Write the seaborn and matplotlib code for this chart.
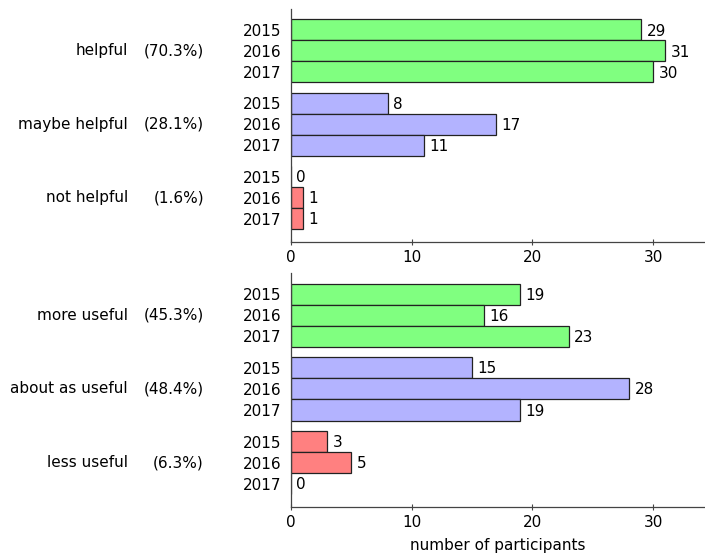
"""
Grouped horizontal bars: helpfulness / usefulness ratings per year.
"""

import pandas as pd
import matplotlib
matplotlib.use("Agg")
import matplotlib.pyplot as plt
import matplotlib.transforms as mtransforms
import seaborn as sns

# Data
years = ["2015", "2016", "2017"]

top_categories = ["helpful", "maybe helpful", "not helpful"]
top_percent = ["(70.3%)", "(28.1%)", "(1.6%)"]
top_counts = [[29, 31, 30], [8, 17, 11], [0, 1, 1]]

bottom_categories = ["more useful", "about as useful", "less useful"]
bottom_percent = ["(45.3%)", "(48.4%)", "(6.3%)"]
bottom_counts = [[19, 16, 23], [15, 28, 19], [3, 5, 0]]

colors = ["#80ff80", "#b3b3ff", "#ff8080"]

# Style
sns.set_style("white")
plt.rcParams["font.family"] = ["DejaVu Sans"]
plt.rcParams["font.size"] = 11
plt.rcParams["text.color"] = "black"
plt.rcParams["xtick.color"] = "black"
plt.rcParams["ytick.color"] = "black"
plt.rcParams["axes.labelcolor"] = "black"


def build_frame(categories, counts):
    rows = []
    for g, (cat, vals) in enumerate(zip(categories, counts)):
        for i, (year, v) in enumerate(zip(years, vals)):
            rows.append({
                "category": cat,
                "year": year,
                "count": v,
                "pos": g * 3.5 + i,
            })
    return pd.DataFrame(rows)


def draw_panel(ax, categories, percents, counts, show_xlabel):
    df = build_frame(categories, counts)
    sns.barplot(data=df, x="count", y="pos", hue="category", orient="h",
                native_scale=True, dodge=False, width=1.0, saturation=1,
                palette=colors, edgecolor="#222222", linewidth=0.9,
                legend=False, ax=ax)

    # value labels
    for _, r in df.iterrows():
        ax.text(r["count"] + 0.45, r["pos"] + 0.05, f"{r['count']}",
                ha="left", va="center", fontsize=11)

    ax.set_yticks(df["pos"])
    ax.set_yticklabels(df["year"])
    ax.set_ylim(10.1, -1.0)
    ax.set_xlim(0, 34.3)
    ax.set_xticks([0, 10, 20, 30])
    ax.tick_params(axis="y", length=0, pad=7, labelsize=11)
    ax.tick_params(axis="x", bottom=True, direction="inout", length=5, width=0.8,
                   color="#444444", labelsize=11, pad=3)
    ax.set_ylabel("")
    ax.set_xlabel("number of participants" if show_xlabel else "", fontsize=11,
                  labelpad=6)

    for side in ["top", "right"]:
        ax.spines[side].set_visible(False)
    for side in ["left", "bottom"]:
        ax.spines[side].set_color("#444444")
        ax.spines[side].set_linewidth(0.9)

    # category labels on the left (figure x, data y)
    trans = mtransforms.blended_transform_factory(ax.figure.transFigure, ax.transData)
    for g, (cat, pct) in enumerate(zip(categories, percents)):
        y = g * 3.5 + 1
        ax.text(128 / 705, y, cat, ha="right", va="center", transform=trans,
                fontsize=11)
        ax.text(204 / 705, y, pct, ha="right", va="center", transform=trans,
                fontsize=11)


fig = plt.figure(figsize=(7.05, 5.57), dpi=100)
left = 291 / 705
width = 1.0 - left
ax_top = fig.add_axes([left, 1 - 242 / 557, width, 233 / 557])
ax_bot = fig.add_axes([left, 1 - 507 / 557, width, 234 / 557])

draw_panel(ax_top, top_categories, top_percent, top_counts, False)
draw_panel(ax_bot, bottom_categories, bottom_percent, bottom_counts, True)

fig.savefig("out.png", dpi=100)
